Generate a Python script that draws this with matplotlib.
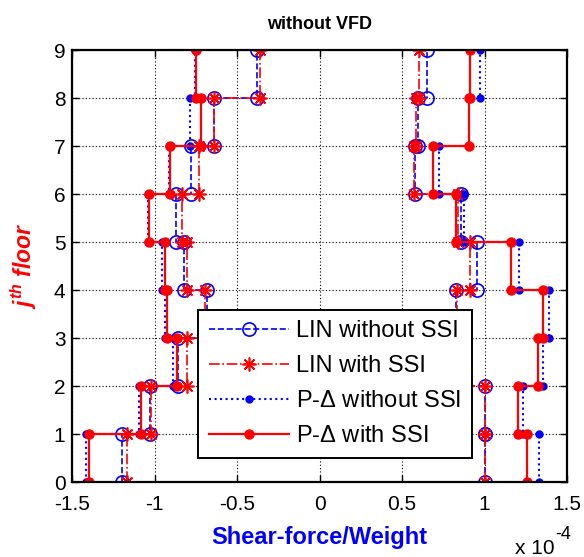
#!/usr/bin/env python3
"""
Storey shear envelopes (without VFD): linear vs. P-Delta, with and without SSI.
"""

import numpy as np
import matplotlib
matplotlib.use('Agg')
import matplotlib.pyplot as plt

plt.rcParams['font.family'] = ['Liberation Sans', 'DejaVu Sans']
plt.rcParams['mathtext.fontset'] = 'custom'
plt.rcParams['mathtext.it'] = 'Liberation Sans:italic:bold'
plt.rcParams['mathtext.rm'] = 'Liberation Sans'

# Storey shear / weight (x 1e-4), storey 1..9, negative and positive envelopes
floors = np.arange(10)

lin_nossi_neg = [-1.20, -1.027, -0.862, -0.683, -0.825, -0.869, -0.78, -0.643, -0.38]
lin_nossi_pos = [1.00, 1.00, 0.88, 0.827, 0.955, 0.857, 0.578, 0.598, 0.649]

lin_ssi_neg = [-1.17, -1.021, -0.804, -0.693, -0.808, -0.835, -0.735, -0.643, -0.36]
lin_ssi_pos = [1.005, 1.005, 0.87, 0.83, 0.91, 0.837, 0.574, 0.584, 0.604]

pd_nossi_neg = [-1.418, -1.098, -0.889, -0.94, -0.956, -1.04, -0.915, -0.788, -0.754]
pd_nossi_pos = [1.327, 1.232, 1.353, 1.39, 1.206, 0.872, 0.725, 0.905, 0.97]

pd_ssi_neg = [-1.398, -1.082, -0.865, -0.926, -0.94, -1.033, -0.91, -0.723, -0.748]
pd_ssi_pos = [1.258, 1.202, 1.322, 1.357, 1.161, 0.827, 0.689, 0.908, 0.913]

xticks = [-1.5, -1, -0.5, 0, 0.5, 1, 1.5]
xtick_labels = ['-1.5', '-1', '-0.5', '0', '0.5', '1', '1.5']


def stairs(values):
    # each storey shear is held constant between its two floor levels
    x = np.repeat(values, 2)
    y = np.repeat(floors, 2)[1:-1]
    return x, y


series = [
    (lin_nossi_neg, lin_nossi_pos, 'LIN without SSI',
     dict(color='b', linestyle='--', linewidth=1.2, marker='o', markersize=9.5,
          markerfacecolor='none', markeredgecolor='b', markeredgewidth=1.2)),
    (lin_ssi_neg, lin_ssi_pos, 'LIN with SSI',
     dict(color='r', linestyle='-.', linewidth=1.2, marker=(8, 2, 0), markersize=10,
          markeredgecolor='r', markeredgewidth=1.2)),
    (pd_nossi_neg, pd_nossi_pos, r'P-$\Delta$ without SSI',
     dict(color='b', linestyle=':', linewidth=1.5, marker='o', markersize=5,
          markerfacecolor='b', markeredgecolor='b')),
    (pd_ssi_neg, pd_ssi_pos, r'P-$\Delta$ with SSI',
     dict(color='r', linestyle='-', linewidth=1.6, marker='o', markersize=6.5,
          markerfacecolor='r', markeredgecolor='r')),
]

fig = plt.figure(figsize=(5.84, 5.57), dpi=100)
ax = fig.add_axes([0.124, 0.1346, 0.847, 0.7756])

handles = []
for neg, pos, label, style in series:
    xn, yn = stairs(neg)
    ax.plot(xn, yn, **style)
    xp, yp = stairs(pos)
    line, = ax.plot(xp, yp, label=label, **style)
    handles.append(line)

ax.set_xlim(-1.5, 1.5)
ax.set_ylim(0, 9)
ax.set_xticks(xticks)
ax.set_xticklabels(xtick_labels)
ax.set_yticks(floors)

ax.grid(True, color='k', linestyle=(0, (1, 2)), linewidth=0.8)
ax.set_axisbelow(True)
ax.tick_params(direction='in', top=True, right=True, length=5, width=1,
               labelsize=15, pad=5)
ax.tick_params(axis='x', pad=9)
for spine in ax.spines.values():
    spine.set_linewidth(1.6)

ax.set_title('without VFD', fontsize=13, fontweight='bold', pad=15)
ax.set_xlabel('Shear-force/Weight', fontsize=17, fontweight='bold', color='b')
ax.xaxis.set_label_coords(0.5, -0.102)
ax.set_ylabel(r'$j^{th}$ floor', fontsize=16.5, fontweight='bold', fontstyle='italic',
              color='r')
ax.yaxis.set_label_coords(-0.068, 0.5)

# exponent of the x axis, written MATLAB style below the axes
fig.text(555 / 584, 3 / 557, 'x 10', ha='right', va='baseline', fontsize=15)
fig.text(555 / 584, 18 / 557, '-4', ha='left', va='baseline', fontsize=13)

leg = ax.legend(handles=handles, loc='center', bbox_to_anchor=(0.531, 0.227),
                fontsize=17, handlelength=3.4, handletextpad=0.3,
                labelspacing=0.55, borderpad=0.45, borderaxespad=0,
                fancybox=False, framealpha=1, edgecolor='k')
leg.get_frame().set_linewidth(1.4)

plt.savefig('out.png', dpi=100)
plt.close()
